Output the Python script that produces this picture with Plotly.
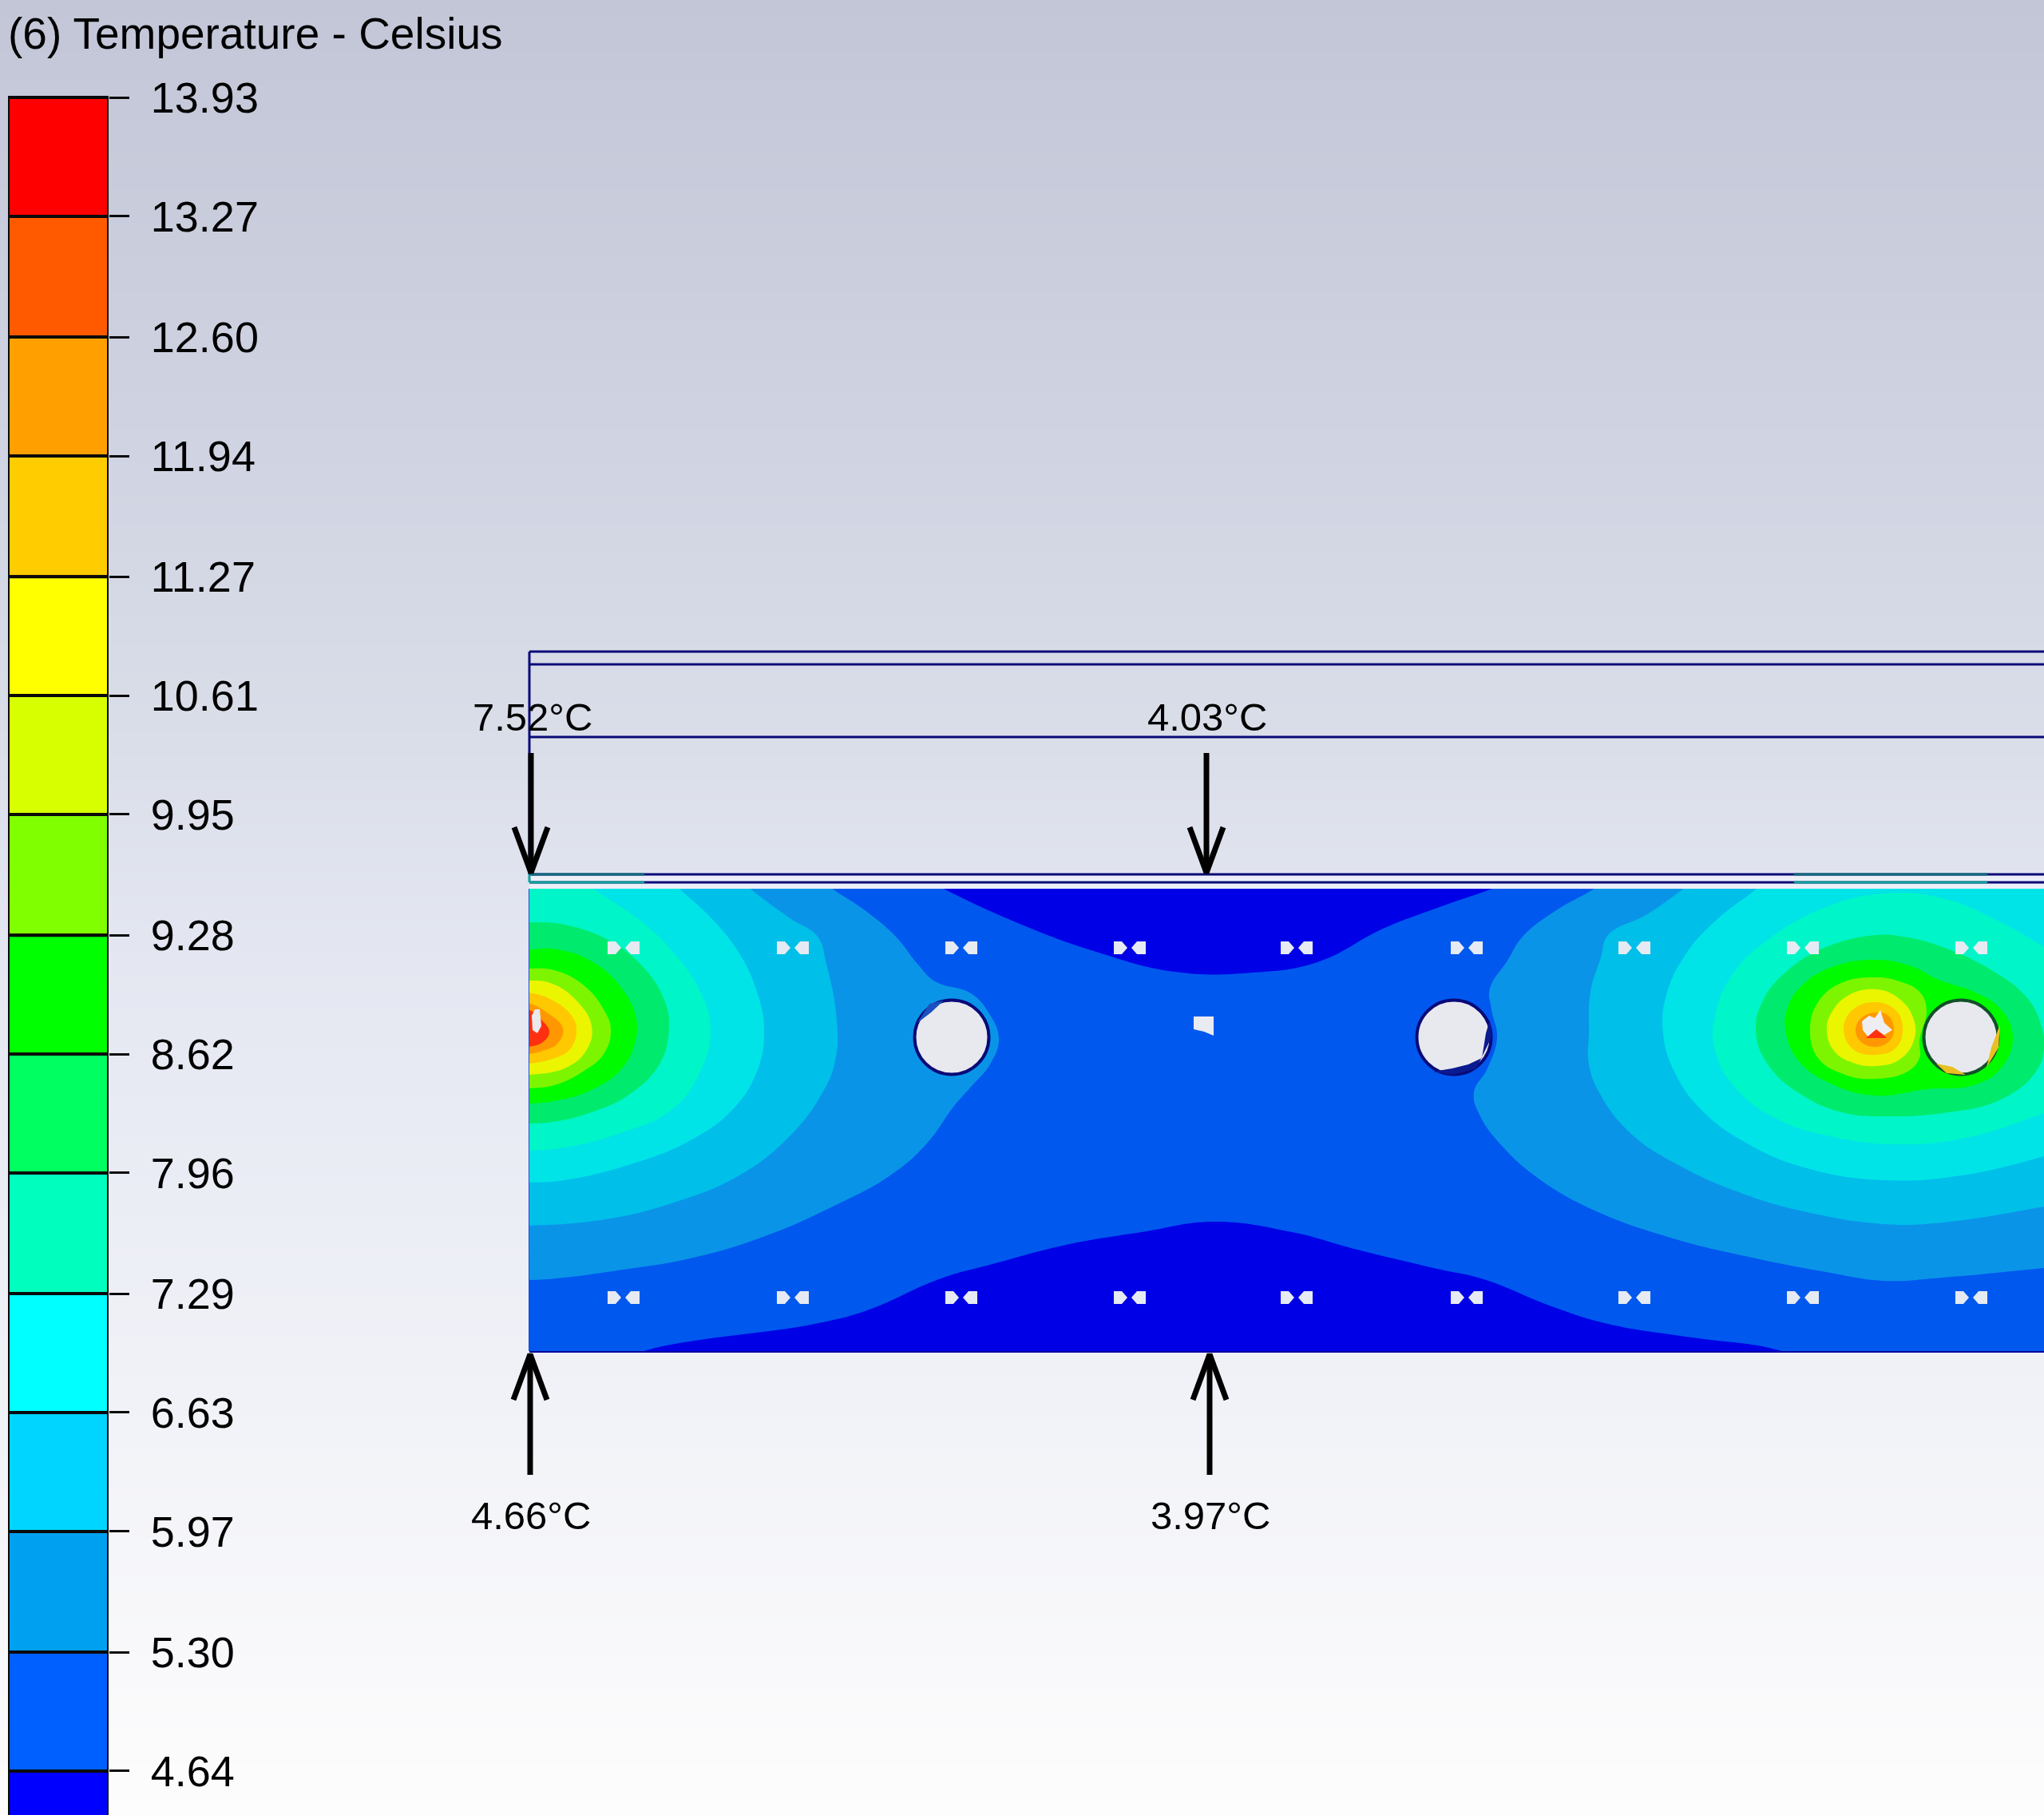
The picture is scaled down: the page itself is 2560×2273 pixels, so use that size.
import plotly.graph_objects as go

W, H = 2560, 2273

# legend
tick_values = [13.93, 13.27, 12.60, 11.94, 11.27, 10.61, 9.95, 9.28, 8.62, 7.96, 7.29, 6.63, 5.97, 5.30, 4.64]
band_lows = [13.27, 12.60, 11.94, 11.27, 10.61, 9.95, 9.28, 8.62, 7.96, 7.29, 6.63, 5.97, 5.30, 4.64, 3.97]
legend_colors = ['#ff0000', '#ff5a00', '#ffa000', '#ffcc00', '#ffff00', '#d8ff00', '#80ff00', '#00ff00',
                 '#00ff60', '#00ffbf', '#00ffff', '#00d5ff', '#00a0f0', '#0060ff', '#0000ff']

# page background, top to bottom
bg_y = [0, 300, 600, 900, 1200, 1500, 1800, 2100, 2273]
bg_colors = ['#c2c6d7', '#c9cddc', '#d1d5e3', '#d9dde8', '#e4e7f1', '#ebedf5', '#f2f3f8', '#f9f9fb', '#fdfdfd']

# probe readings
label_texts = ['7.52°C', '4.03°C', '4.66°C', '3.97°C']
label_x = [667, 1512, 665, 1516]
label_y = [898, 898, 1898, 1898]
arrow_x = [665, 1511, 664, 1515]
arrow_tail = [943, 943, 1847, 1847]
arrow_tip = [1093, 1093, 1696, 1696]

# model outline
line_y = [816, 832, 923, 1095, 1105]
teal_x = [[663, 807], [2247, 2489]]

# isotherm bands, coldest on the bottom
coldest_top = [(1150, 1095), (1180, 1112), (1275, 1156), (1373, 1192), (1471, 1217), (1569, 1218), (1650, 1205),
               (1732, 1163), (1800, 1137), (1871, 1112), (1910, 1095)]
coldest_bottom = [(770, 1710), (810, 1691), (1020, 1658), (1086, 1641), (1176, 1602), (1243, 1583), (1340, 1558),
                  (1430, 1543), (1520, 1530), (1618, 1543), (1700, 1565), (1800, 1589), (1858, 1602), (1946, 1637),
                  (2014, 1658), (2112, 1674), (2228, 1691), (2270, 1710)]
band3_left = [(640, 1100), (1025, 1100), (1044, 1114), (1086, 1142), (1122, 1173), (1149, 1207), (1171, 1229),
              (1216, 1244), (1238, 1268), (1251, 1301), (1240, 1333), (1218, 1359), (1195, 1385), (1160, 1433),
              (1115, 1472), (1043, 1511), (953, 1550), (864, 1576), (774, 1591), (685, 1602), (640, 1603)]
band3_right = [(2600, 1100), (2015, 1100), (1995, 1114), (1946, 1142), (1907, 1173), (1888, 1203), (1866, 1238),
               (1868, 1264), (1875, 1299), (1863, 1338), (1846, 1368), (1854, 1398), (1883, 1437), (1927, 1476),
               (1995, 1515), (2092, 1550), (2190, 1574), (2287, 1593), (2360, 1604), (2433, 1600), (2560, 1588),
               (2600, 1584)]
band4_left = [(640, 1100), (925, 1100), (941, 1114), (988, 1149), (1024, 1173), (1035, 1207), (1048, 1277),
              (1046, 1329), (1028, 1372), (988, 1424), (926, 1472), (841, 1507), (752, 1528), (661, 1535), (640, 1535)]
band4_right = [(2600, 1100), (2125, 1100), (2107, 1114), (2063, 1145), (2014, 1171), (2005, 1199), (1992, 1242),
               (1990, 1294), (1990, 1333), (2005, 1372), (2043, 1420), (2102, 1459), (2180, 1494), (2263, 1518),
               (2360, 1533), (2433, 1531), (2560, 1511), (2600, 1503)]
band5_left = [(640, 1100), (838, 1100), (852, 1114), (890, 1149), (926, 1194), (948, 1242), (957, 1290), (948, 1342),
              (917, 1390), (863, 1429), (787, 1459), (707, 1478), (661, 1481), (640, 1481)]
band5_right = [(2600, 1100), (2215, 1100), (2199, 1114), (2151, 1151), (2112, 1194), (2087, 1246), (2083, 1294),
               (2097, 1342), (2131, 1390), (2190, 1433), (2263, 1463), (2360, 1478), (2457, 1472), (2560, 1448),
               (2600, 1436)]
band6_left = [(640, 1100), (725, 1100), (747, 1116), (797, 1149), (841, 1190), (877, 1242), (890, 1290), (877, 1342),
              (841, 1390), (774, 1420), (707, 1437), (661, 1441), (640, 1441)]
band6_right = [(2600, 1210), (2560, 1186), (2506, 1155), (2433, 1125), (2360, 1119), (2287, 1136), (2214, 1177),
               (2170, 1220), (2148, 1272), (2148, 1316), (2175, 1364), (2229, 1403), (2297, 1424), (2375, 1433),
               (2457, 1426), (2560, 1394), (2600, 1378)]
band7_left = [(640, 1155), (661, 1155), (707, 1158), (765, 1179), (810, 1216), (833, 1255), (838, 1285), (828, 1329),
              (792, 1368), (738, 1394), (685, 1406), (661, 1407), (640, 1407)]
band7_right = [(2350, 1171), (2287, 1186), (2238, 1216), (2209, 1251), (2199, 1290), (2214, 1333), (2258, 1372),
               (2311, 1394), (2360, 1398), (2433, 1394), (2506, 1377), (2550, 1342), (2560, 1312), (2557, 1286),
               (2540, 1251), (2496, 1216), (2433, 1186), (2384, 1173), (2350, 1171)]
band8_left = [(640, 1189), (661, 1189), (698, 1189), (743, 1205), (779, 1238), (796, 1272), (796, 1303), (779, 1338),
              (743, 1364), (694, 1379), (661, 1382), (640, 1382)]
band8_right = [(2350, 1202), (2297, 1210), (2258, 1233), (2238, 1264), (2237, 1294), (2253, 1329), (2297, 1359),
               (2350, 1372), (2414, 1364), (2472, 1359), (2506, 1338), (2521, 1299), (2506, 1264), (2472, 1242),
               (2428, 1227), (2394, 1210), (2350, 1202)]
band9_left = [(640, 1213), (661, 1213), (694, 1215), (730, 1233), (756, 1264), (765, 1290), (756, 1320), (730, 1342),
              (694, 1359), (661, 1363), (640, 1363)]
band9_right = [(2350, 1224), (2306, 1231), (2277, 1255), (2267, 1290), (2277, 1325), (2311, 1346), (2350, 1351),
               (2389, 1342), (2404, 1325), (2404, 1303), (2413, 1264), (2404, 1242), (2379, 1229), (2350, 1224)]
band10_left = [(640, 1228), (661, 1228), (689, 1231), (720, 1251), (741, 1285), (734, 1316), (707, 1338), (661, 1346),
               (640, 1346)]
band10_right = [(2350, 1239), (2316, 1246), (2294, 1268), (2288, 1290), (2297, 1316), (2321, 1331), (2350, 1335),
                (2379, 1327), (2397, 1303), (2397, 1277), (2379, 1251), (2350, 1239)]
band11_left = [(640, 1243), (661, 1243), (689, 1251), (716, 1272), (722, 1290), (714, 1314), (689, 1327), (661, 1332),
               (640, 1332)]
band11_right = [(2350, 1255), (2321, 1264), (2309, 1288), (2321, 1314), (2350, 1321), (2375, 1312), (2383, 1288),
                (2375, 1266), (2350, 1255)]
band12_left = [(640, 1256), (661, 1256), (685, 1268), (705, 1288), (698, 1307), (680, 1316), (661, 1320), (640, 1320)]
band12_right = [(2350, 1268), (2331, 1275), (2324, 1290), (2331, 1305), (2350, 1311), (2367, 1303), (2372, 1288),
                (2365, 1272), (2350, 1268)]
band13_left = [(640, 1264), (661, 1264), (678, 1277), (688, 1292), (680, 1305), (661, 1311), (640, 1311)]

bands = [
    ('#0000e6', [coldest_top, coldest_bottom]),
    ('#0a94e8', [band3_left, band3_right]),
    ('#00bfe9', [band4_left, band4_right]),
    ('#00e4e8', [band5_left, band5_right]),
    ('#00f5c8', [band6_left, band6_right]),
    ('#00eb6e', [band7_left, band7_right]),
    ('#00fa00', [band8_left, band8_right]),
    ('#7df500', [band9_left, band9_right]),
    ('#ebf500', [band10_left, band10_right]),
    ('#ffc800', [band11_left, band11_right]),
    ('#ff9800', [band12_left, band12_right]),
    ('#ff3010', [band13_left]),
]

# holes in the plate
hot_hole_left = [(670, 1264), (676, 1264), (678, 1285), (673, 1294), (667, 1290), (666, 1272), (670, 1264)]
hot_hole_right = [(2355, 1265), (2360, 1281), (2370, 1290), (2360, 1296), (2350, 1290), (2341, 1300), (2333, 1290),
                  (2332, 1279), (2341, 1272), (2348, 1275), (2355, 1265)]
hot_hole_red = [(2350, 1289), (2337, 1300), (2363, 1300), (2350, 1289)]
mid_patch = [(1495, 1273), (1520, 1273), (1520, 1297), (1508, 1292), (1495, 1289), (1495, 1273)]
gold_side = [(2505, 1283), (2503, 1312), (2488, 1337), (2494, 1312), (2505, 1283)]
gold_bottom = [(2425, 1332), (2445, 1336), (2462, 1346), (2438, 1344), (2425, 1332)]
crescent_mid = [(1866, 1277), (1868, 1299), (1849, 1338), (1819, 1346), (1795, 1342), (1819, 1338), (1839, 1333),
                (1856, 1325), (1861, 1294), (1866, 1277)]
crescent_left = [(1149, 1281), (1164, 1257), (1182, 1253), (1166, 1268), (1149, 1281)]
tube_x = [1192, 1821, 2456]
tube_y = [1299, 1299, 1299]
tube_edge = ['#0a0a78', '#0a0a78', '#12502a']
slot_x = [781, 993, 1204, 1415, 1624, 1837, 2047, 2258, 2469]
slot_rows = [1187, 1625]


def xs(points):
    return [p[0] for p in points]


def ys(points):
    return [p[1] for p in points]


fig = go.Figure()

# background on the page axes
fig.add_trace(go.Heatmap(x=[0, W], y=bg_y, z=[[v, v] for v in bg_y], zmin=0, zmax=H, zsmooth='best',
                         colorscale=[[v / H, c] for v, c in zip(bg_y, bg_colors)], showscale=False,
                         hoverinfo='skip', xaxis='x', yaxis='y'))

# fill between the two lines over the plate
fig.add_trace(go.Scatter(x=[663, W, W, 663, 663], y=[1095, 1095, 1113, 1113, 1095], mode='lines', fill='toself',
                         fillcolor='#eceff7', line_width=0, xaxis='x', yaxis='y'))

for y in line_y:
    fig.add_trace(go.Scatter(x=[663, W], y=[y, y], mode='lines', line=dict(color='#0b0b78', width=3),
                             xaxis='x', yaxis='y'))
for y, col in zip(line_y[3:], ['#0f6a7c', '#12a09c']):
    for seg in teal_x:
        fig.add_trace(go.Scatter(x=seg, y=[y, y], mode='lines', line=dict(color=col, width=3), xaxis='x', yaxis='y'))
fig.add_trace(go.Scatter(x=[663, 663], y=[816, 1095], mode='lines', line=dict(color='#0b0b78', width=3),
                         xaxis='x', yaxis='y'))
fig.add_trace(go.Scatter(x=[663, 663], y=[1095, 1105], mode='lines', line=dict(color='#12a09c', width=3),
                         xaxis='x', yaxis='y'))
fig.add_trace(go.Scatter(x=[663, W], y=[1692, 1692], mode='lines', line=dict(color='#06069a', width=4),
                         xaxis='x', yaxis='y'))
fig.add_trace(go.Scatter(x=[663, 663], y=[1113, 1692], mode='lines', line=dict(color='#1a4fd0', width=2),
                         xaxis='x', yaxis='y'))

# arrows
for ax, tail, tip in zip(arrow_x, arrow_tail, arrow_tip):
    fig.add_trace(go.Scatter(x=[ax, ax], y=[tail, tip], mode='lines', line=dict(color='black', width=7),
                             xaxis='x', yaxis='y'))
    back = tip - 57 if tip > tail else tip + 57
    fig.add_trace(go.Scatter(x=[ax - 21, ax, ax + 21], y=[back, tip, back], mode='lines',
                             line=dict(color='black', width=7), xaxis='x', yaxis='y'))

# legend column
fig.add_trace(go.Bar(x=[0] * len(band_lows), y=[hi - lo for hi, lo in zip(tick_values, band_lows)], base=band_lows,
                     width=1, cliponaxis=False, marker=dict(color=legend_colors, line=dict(color='#0a0a0a', width=4)),
                     xaxis='x2', yaxis='y2'))

# plate, everything clipped to its own axes
fig.add_trace(go.Scatter(x=[663, W, W, 663, 663], y=[1113, 1113, 1692, 1692, 1113], mode='lines', fill='toself',
                         fillcolor='#0058ee', line_width=0, xaxis='x3', yaxis='y3'))
for color, regions in bands:
    for points in regions:
        fig.add_trace(go.Scatter(x=xs(points), y=ys(points), mode='lines', fill='toself', fillcolor=color,
                                 line=dict(width=0, shape='spline', smoothing=1.2), xaxis='x3', yaxis='y3'))

for points, color in [(hot_hole_left, '#e9e9ee'), (hot_hole_right, '#eeeef2'), (hot_hole_red, '#ff3010'),
                      (mid_patch, '#e9ebf2')]:
    fig.add_trace(go.Scatter(x=xs(points), y=ys(points), mode='lines', fill='toself', fillcolor=color, line_width=0,
                             xaxis='x3', yaxis='y3'))

# bolt slots, two little pieces facing each other
for cy in slot_rows:
    for cx in slot_x:
        fig.add_trace(go.Scatter(x=[cx - 20, cx - 10, cx - 3, cx - 10, cx - 20, cx - 20],
                                 y=[cy - 8, cy - 8, cy, cy + 8, cy + 8, cy - 8], mode='lines', fill='toself',
                                 fillcolor='#e6eaf2', line_width=0, xaxis='x3', yaxis='y3'))
        fig.add_trace(go.Scatter(x=[cx + 20, cx + 9, cx + 2, cx + 9, cx + 20, cx + 20],
                                 y=[cy - 8, cy - 8, cy, cy + 8, cy + 8, cy - 8], mode='lines', fill='toself',
                                 fillcolor='#e6eaf2', line_width=0, xaxis='x3', yaxis='y3'))

fig.add_trace(go.Scatter(x=tube_x, y=tube_y, mode='markers', xaxis='x3', yaxis='y3',
                         marker=dict(size=93, color='#e8e9ee', line=dict(color=tube_edge, width=4))))
for points, color in [(gold_side, '#e8c020'), (gold_bottom, '#e8c020'), (crescent_mid, '#0a1a90'),
                      (crescent_left, '#1a50c0')]:
    fig.add_trace(go.Scatter(x=xs(points), y=ys(points), mode='lines', fill='toself', fillcolor=color, line_width=0,
                             xaxis='x3', yaxis='y3'))

annotations = [dict(text=t, x=x, y=y, xref='x', yref='y', showarrow=False, xanchor='center', yanchor='middle',
                    font=dict(family='Liberation Sans', size=49, color='black'))
               for t, x, y in zip(label_texts, label_x, label_y)]

fig.update_layout(
    width=W, height=H, margin=dict(l=0, r=0, t=0, b=0), showlegend=False, barmode='overlay',
    paper_bgcolor='rgba(0,0,0,0)', plot_bgcolor='rgba(0,0,0,0)',
    title=dict(text='(6) Temperature - Celsius', x=10 / W, y=1 - 42 / H, xanchor='left', yanchor='middle',
               font=dict(family='Liberation Sans', size=55, color='black')),
    annotations=annotations,
    xaxis=dict(domain=[0, 1], range=[0, W], visible=False, fixedrange=True),
    yaxis=dict(domain=[0, 1], range=[H, 0], visible=False, fixedrange=True),
    xaxis2=dict(domain=[10 / W, 136 / W], range=[-0.5, 0.5], visible=False, anchor='y2', fixedrange=True),
    yaxis2=dict(domain=[0, 1], range=[4.396, 14.471], anchor='x2', side='right', tickmode='array',
                tickvals=tick_values, ticktext=[f'{v:.2f}' for v in tick_values], ticks='outside', ticklen=25,
                tickwidth=3, tickcolor='#0a0a0a', showgrid=False, showline=False, zeroline=False,
                ticklabelstandoff=16, tickfont=dict(family='Liberation Sans', size=54, color='black'),
                fixedrange=True),
    xaxis3=dict(domain=[663 / W, 1], range=[663, W], visible=False, anchor='y3', fixedrange=True),
    yaxis3=dict(domain=[1 - 1692 / H, 1 - 1113 / H], range=[1692, 1113], visible=False, anchor='x3', fixedrange=True),
)

fig.write_html("out.html", config={'displayModeBar': False},
               post_script="document.body.style.margin='0';document.body.style.overflow='hidden';")
